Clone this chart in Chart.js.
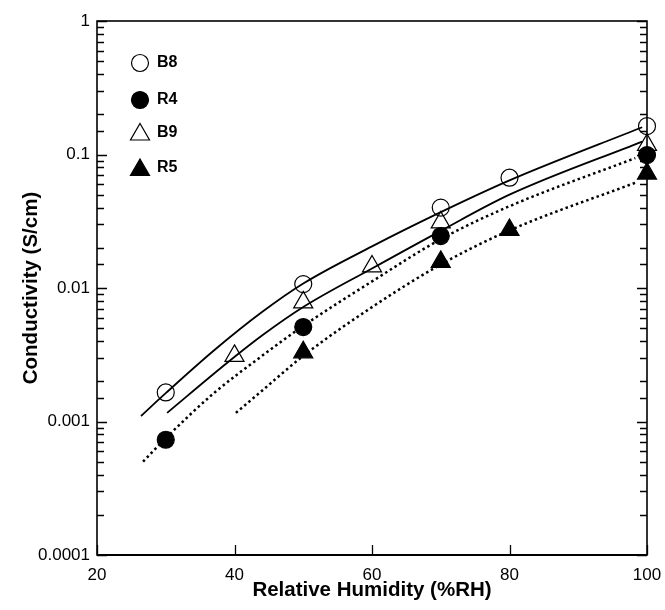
<!DOCTYPE html>
<html>
<head>
<meta charset="utf-8">
<script src="https://cdn.jsdelivr.net/npm/chart.js@4.4.1/dist/chart.umd.min.js"></script>
<style>
  html, body { margin: 0; padding: 0; background: #fff; }
  #wrap { width: 665px; height: 610px; }
</style>
</head>
<body>
<div id="wrap"><canvas id="chart" width="665" height="610"></canvas></div>
<script>
// measured points
const b8Rh = [30, 50, 70, 80, 100];
const b8Cond = [0.00165, 0.0107, 0.040, 0.067, 0.163];
const r4Rh = [30, 50, 70, 100];
const r4Cond = [0.00073, 0.0051, 0.0245, 0.099];
const b9Rh = [40, 50, 60, 70, 100];
const b9Cond = [0.0031, 0.0078, 0.0145, 0.031, 0.118];
const r5Rh = [50, 70, 80, 100];
const r5Cond = [0.0033, 0.0157, 0.0272, 0.072];

// fitted curves (solid for B, dotted for R)
const b8FitRh = [26.4, 30, 37, 44, 50, 60, 70, 80, 99.3];
const b8FitCond = [0.0011, 0.00163, 0.0034, 0.0066, 0.0108, 0.0205, 0.037, 0.064, 0.16];
const b9FitRh = [30.2, 38.9, 44, 50, 60, 70, 80, 99.3];
const b9FitCond = [0.00116, 0.00274, 0.0044, 0.0072, 0.014, 0.0268, 0.05, 0.125];
const r4FitRh = [26.7, 30, 37, 44, 50, 60, 70, 80, 98.3];
const r4FitCond = [0.0005, 0.00075, 0.00163, 0.0031, 0.0052, 0.0112, 0.0232, 0.041, 0.094];
const r5FitRh = [40.2, 44, 50, 59.3, 70, 80, 98.5];
const r5FitCond = [0.00116, 0.0017, 0.0031, 0.0068, 0.015, 0.027, 0.062];

const rhTicks = [20, 40, 60, 80, 100];
const condTicks = [0.0001, 0.001, 0.01, 0.1, 1];

const FONT = "'Liberation Sans', Arial, sans-serif";

const toXY = (xs, ys) => xs.map((x, i) => ({ x: x, y: ys[i] }));
const isDecade = v => Math.abs(Math.log10(v) - Math.round(Math.log10(v))) < 1e-6;

function fitLine(xs, ys, dotted) {
  return {
    data: toXY(xs, ys),
    showLine: true,
    pointRadius: 0,
    borderColor: "#000",
    borderWidth: dotted ? 2.5 : 1.8,
    borderDash: dotted ? [2.5, 3] : [],
    borderCapStyle: "butt",
    cubicInterpolationMode: "monotone",
    fill: false
  };
}

function marks(label, xs, ys, style, filled) {
  return {
    label: label,
    data: toXY(xs, ys),
    showLine: false,
    pointStyle: style,
    pointRadius: style === "triangle" ? 11 : 8.5,
    pointBorderWidth: 1.2,
    pointBorderColor: "#000",
    pointBackgroundColor: filled ? "#000" : "rgba(0,0,0,0)",
    clip: false
  };
}

// axis frame with inward ticks
const frameTicks = {
  id: "frameTicks",
  afterDraw(chart) {
    const { ctx, chartArea: a, scales: { x, y } } = chart;
    ctx.save();
    ctx.strokeStyle = "#000";
    ctx.lineWidth = 1.3;
    ctx.beginPath();
    y.ticks.forEach(t => {
      const py = Math.round(y.getPixelForValue(t.value)) + 0.5;
      const len = isDecade(t.value) ? 10 : 7;
      ctx.moveTo(a.left, py); ctx.lineTo(a.left + len, py);
      ctx.moveTo(a.right, py); ctx.lineTo(a.right - len, py);
    });
    rhTicks.forEach(v => {
      const px = Math.round(x.getPixelForValue(v)) + 0.5;
      ctx.moveTo(px, a.bottom); ctx.lineTo(px, a.bottom - 10);
    });
    ctx.stroke();
    ctx.lineWidth = 1.6;
    ctx.strokeRect(a.left, a.top, a.right - a.left, a.bottom - a.top);
    ctx.lineWidth = 2.2;
    ctx.beginPath();
    ctx.moveTo(a.left, a.bottom); ctx.lineTo(a.right, a.bottom);
    ctx.stroke();
    ctx.restore();
  }
};

// legend inside the plot, top left
const innerLegend = {
  id: "innerLegend",
  afterDraw(chart) {
    const { ctx } = chart;
    const items = [
      { label: "B8", style: "circle", filled: false, y: 63 },
      { label: "R4", style: "circle", filled: true, y: 100 },
      { label: "B9", style: "triangle", filled: false, y: 134.5 },
      { label: "R5", style: "triangle", filled: true, y: 170 }
    ];
    const cx = 140;
    ctx.save();
    ctx.strokeStyle = "#000";
    ctx.fillStyle = "#000";
    ctx.lineWidth = 1.2;
    items.forEach(it => {
      ctx.beginPath();
      if (it.style === "circle") {
        ctx.arc(cx, it.y, 8.5, 0, Math.PI * 2);
      } else {
        const r = 11;
        ctx.moveTo(cx, it.y - r);
        ctx.lineTo(cx + r * Math.sin(2 * Math.PI / 3), it.y + r / 2);
        ctx.lineTo(cx - r * Math.sin(2 * Math.PI / 3), it.y + r / 2);
        ctx.closePath();
      }
      if (it.filled) ctx.fill();
      ctx.stroke();
      ctx.font = "bold 16px " + FONT;
      ctx.textBaseline = "middle";
      ctx.textAlign = "left";
      ctx.fillText(it.label, 157, it.style === "circle" ? it.y : it.y - 2);
    });
    ctx.restore();
  }
};

new Chart(document.getElementById("chart"), {
  type: "scatter",
  data: {
    datasets: [
      fitLine(b8FitRh, b8FitCond, false),
      fitLine(b9FitRh, b9FitCond, false),
      fitLine(r4FitRh, r4FitCond, true),
      fitLine(r5FitRh, r5FitCond, true),
      marks("B8", b8Rh, b8Cond, "circle", false),
      marks("R4", r4Rh, r4Cond, "circle", true),
      marks("B9", b9Rh, b9Cond, "triangle", false),
      marks("R5", r5Rh, r5Cond, "triangle", true)
    ]
  },
  options: {
    responsive: false,
    animation: false,
    layout: { padding: { top: 21, right: 18, left: 0, bottom: 0 } },
    plugins: {
      legend: { display: false },
      tooltip: { enabled: false }
    },
    scales: {
      x: {
        type: "linear",
        min: 20,
        max: 100,
        afterBuildTicks: s => { s.ticks = rhTicks.map(v => ({ value: v })); },
        afterFit: s => { s.height = 55; },
        grid: { display: false, drawTicks: true, tickLength: 7 },
        border: { display: false },
        ticks: { color: "#000", font: { family: FONT, size: 17 }, padding: 3, maxRotation: 0 },
        title: {
          display: true,
          text: "Relative Humidity (%RH)",
          color: "#000",
          font: { family: FONT, size: 20.5, weight: "bold" },
          padding: { top: 0, bottom: 7 }
        }
      },
      y: {
        type: "logarithmic",
        min: condTicks[0],
        max: condTicks[condTicks.length - 1],
        afterFit: s => { s.width = 97; },
        grid: { display: false, drawTicks: false },
        border: { display: false },
        ticks: {
          color: "#000",
          font: { family: FONT, size: 17 },
          padding: 7,
          autoSkip: false,
          callback: v => (isDecade(v) ? String(v) : "")
        },
        title: {
          display: true,
          text: "Conductivity (S/cm)",
          color: "#000",
          font: { family: FONT, size: 20.5, weight: "bold" },
          padding: { top: 19, bottom: 0 }
        }
      }
    }
  },
  plugins: [frameTicks, innerLegend]
});
</script>
</body>
</html>
